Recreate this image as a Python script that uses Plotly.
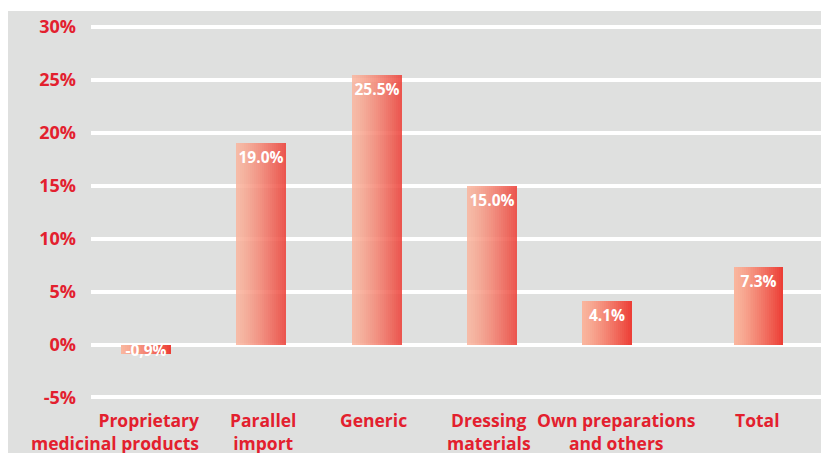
import plotly.graph_objects as go

# ---- data ----
categories = ["Proprietary<br>medicinal products", "Parallel<br>import", "Generic",
              "Dressing<br>materials", "Own preparations<br>and others", "Total"]
values = [-0.9, 19.0, 25.5, 15.0, 4.1, 7.3]
value_labels = ["-0,9%", "19.0%", "25.5%", "15.0%", "4.1%", "7.3%"]
y_ticks = [-5, 0, 5, 10, 15, 20, 25, 30]
y_ticktext = ["-5%", "0%", "5%", "10%", "15%", "20%", "25%", "30%"]

# ---- layout constants ----
slot_pos = [0, 1, 2, 3, 4, 5.315]
label_shift = [55, 2, -3, -3, 9, -1]
bar_opacity = [1, 0.86, 0.86, 0.86, 1, 1]
BAR_W = 0.434
N_SLICES = 25
RED = "#e3202e"
BG = "#dfe0df"
FONT = "Open Sans"
C0 = (249, 182, 158)
C1 = (236, 60, 52)

fig = go.Figure()

for i in range(N_SLICES):
    t = ((i + 0.5) / N_SLICES) ** 1.25
    col = "rgb(%d,%d,%d)" % tuple(round(a + (b - a) * t) for a, b in zip(C0, C1))
    fig.add_trace(go.Bar(
        x=slot_pos, y=values,
        width=BAR_W / N_SLICES,
        offset=-BAR_W / 2 + i * BAR_W / N_SLICES,
        marker=dict(color=col, opacity=bar_opacity, line=dict(width=0)),
        hoverinfo="skip", showlegend=False,
    ))

# value labels
pos_text = [lab if v >= 0 else "" for v, lab in zip(values, value_labels)]
neg_text = [lab if v < 0 else "" for v, lab in zip(values, value_labels)]
for txt, anchor in ((pos_text, "end"), (neg_text, "middle")):
    fig.add_trace(go.Bar(
        x=slot_pos, y=values, width=BAR_W, offset=-BAR_W / 2,
        marker=dict(color="rgba(0,0,0,0)", line=dict(width=0)),
        text=txt, textposition="inside", insidetextanchor=anchor,
        textangle=0, constraintext="none",
        textfont=dict(family=FONT, size=15.5, color="white", weight="bold"),
        insidetextfont=dict(family=FONT, size=15.5, color="white", weight="bold"),
        hoverinfo="skip", showlegend=False,
    ))

# category labels
for i, (p, lab) in enumerate(zip(slot_pos, categories)):
    first = i == 0
    fig.add_annotation(
        x=p, y=0, xref="x", yref="paper",
        text=lab, showarrow=False,
        xanchor="right" if first else "center",
        align="right" if first else "center",
        yanchor="top", xshift=label_shift[i], yshift=2,
        font=dict(family=FONT, size=17.5, color=RED, weight="bold"),
    )

# page body has an 8px margin; figure sits at (8, 8)
W, H = 821, 445
ML, MR, MT, MB = 83, 0, 3, 45
pw, ph = W - ML - MR, H - MT - MB

# white strip on top of the grey panel
fig.add_shape(type="rect", xref="paper", yref="paper",
              x0=-ML / pw - 0.01, x1=1.01, y0=1, y1=1 + MT / ph + 0.01,
              fillcolor="white", line=dict(width=0), layer="below")

fig.update_layout(
    width=W, height=H,
    margin=dict(l=ML, r=MR, t=MT, b=MB, pad=0),
    paper_bgcolor=BG, plot_bgcolor=BG,
    barmode="overlay", bargap=0, bargroupgap=0,
    showlegend=False,
    xaxis=dict(range=[-0.479, 5.927], showgrid=False, zeroline=False,
               showticklabels=False, showline=False, fixedrange=True),
    yaxis=dict(range=[-6.0, 31.51], tickvals=y_ticks, ticktext=y_ticktext,
               showgrid=True, gridcolor="white", gridwidth=3.5,
               zeroline=False, showline=False, ticks="",
               ticklabelstandoff=14,
               tickfont=dict(family=FONT, size=18, color=RED, weight="bold"),
               fixedrange=True),
)

fig.write_html("out.html")
